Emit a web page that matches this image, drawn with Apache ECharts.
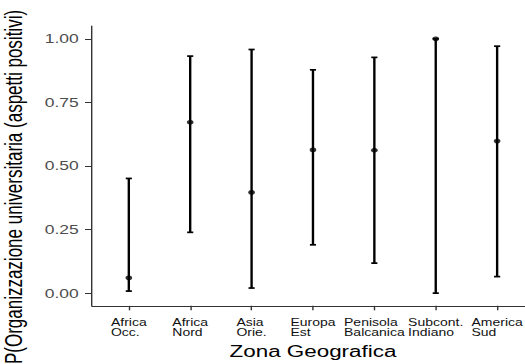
<!DOCTYPE html>
<html>
<head>
<meta charset="utf-8">
<script src="https://cdn.jsdelivr.net/npm/echarts@6/dist/echarts.min.js"></script>
<style>
html,body{margin:0;padding:0;background:#fff;overflow:hidden;width:525px;height:364px;}
#wrap{width:525px;height:364px;overflow:hidden;position:relative;background:#fff;}
#chart{width:400px;height:364px;transform:scaleX(1.4);transform-origin:0 0;position:absolute;left:0;top:0;}
</style>
</head>
<body>
<div id="wrap"><div id="chart"></div></div>
<script>
const categories = ['Africa\nOcc.', 'Africa\nNord', 'Asia\nOrie.', 'Europa\nEst', 'Penisola\nBalcanica', 'Subcont.\nIndiano', 'America\nSud'];
const estimate = [0.060, 0.672, 0.396, 0.563, 0.562, 1.000, 0.598];
const lower    = [0.008, 0.239, 0.020, 0.190, 0.118, 0.000, 0.065];
const upper    = [0.451, 0.932, 0.958, 0.878, 0.927, 1.000, 0.971];
const yTicks = [0, 0.25, 0.5, 0.75, 1];
const xTicks = categories.map((c, i) => i);

const chart = echarts.init(document.getElementById('chart'), null, {renderer: 'svg'});
const FONT = '"Liberation Sans", Arial, Helvetica, sans-serif';

const option = {
  backgroundColor: '#fff',
  animation: false,
  grid: {left: 65.7, top: 26.1, width: 315.7, height: 291.2, containLabel: false},
  xAxis: {
    type: 'value', min: -0.6, max: 6.6,
    splitLine: {show: false},
    axisLine: {show: true, onZero: false, lineStyle: {color: '#333', width: 1}},
    axisTick: {show: true, length: 4.5, customValues: xTicks, lineStyle: {color: '#333', width: 1}},
    axisLabel: {
      customValues: xTicks, margin: 11.5,
      formatter: v => {
        const c = categories[Math.round(v)];
        if (c === undefined) return '';
        return c.split('\n').map(s => '{l|' + s + '}').join('\n');
      },
      rich: {l: {fontFamily: FONT, fontSize: 10, lineHeight: 10.5, color: '#111', align: 'left'}},
      color: '#111', fontFamily: FONT, fontSize: 10
    },
    name: 'Zona Geografica', nameLocation: 'middle', nameGap: 34,
    nameTextStyle: {fontFamily: FONT, fontSize: 16, color: '#000'}
  },
  yAxis: {
    type: 'value', min: -0.05, max: 1.05,
    splitLine: {show: false},
    axisLine: {show: true, onZero: false, lineStyle: {color: '#333', width: 1}},
    axisTick: {show: true, length: 5, customValues: yTicks, lineStyle: {color: '#333', width: 1}},
    axisLabel: {customValues: yTicks, margin: 9.5, formatter: v => v.toFixed(2),
      fontFamily: FONT, fontSize: 12.5, color: '#4d4d4d'}
  },
  graphic: [{
    type: 'text', x: 9.5, y: 187, rotation: Math.PI / 2,
    style: {text: 'P(Organizzazione universitaria (aspetti positivi)', font: '17px ' + FONT,
      fill: '#000', align: 'center', verticalAlign: 'middle'}
  }],
  series: [
    {
      type: 'custom',
      data: categories.map((c, i) => [i, lower[i], upper[i]]),
      renderItem: (params, api) => {
        const x = api.value(0), lo = api.value(1), hi = api.value(2);
        const pLo = api.coord([x, lo]), pHi = api.coord([x, hi]);
        const half = api.size([0.1, 0])[0] / 2;
        const st = {stroke: '#000', lineWidth: 1.7};
        return {type: 'group', children: [
          {type: 'line', shape: {x1: pLo[0], y1: pLo[1], x2: pHi[0], y2: pHi[1]}, style: st},
          {type: 'line', shape: {x1: pLo[0] - half, y1: pLo[1], x2: pLo[0] + half, y2: pLo[1]}, style: st},
          {type: 'line', shape: {x1: pHi[0] - half, y1: pHi[1], x2: pHi[0] + half, y2: pHi[1]}, style: st}
        ]};
      },
      z: 2
    },
    {
      type: 'scatter', symbol: 'circle', symbolSize: 4.8,
      itemStyle: {color: '#000'},
      data: categories.map((c, i) => [i, estimate[i]]),
      z: 3
    }
  ]
};
chart.setOption(option);
</script>
</body>
</html>
